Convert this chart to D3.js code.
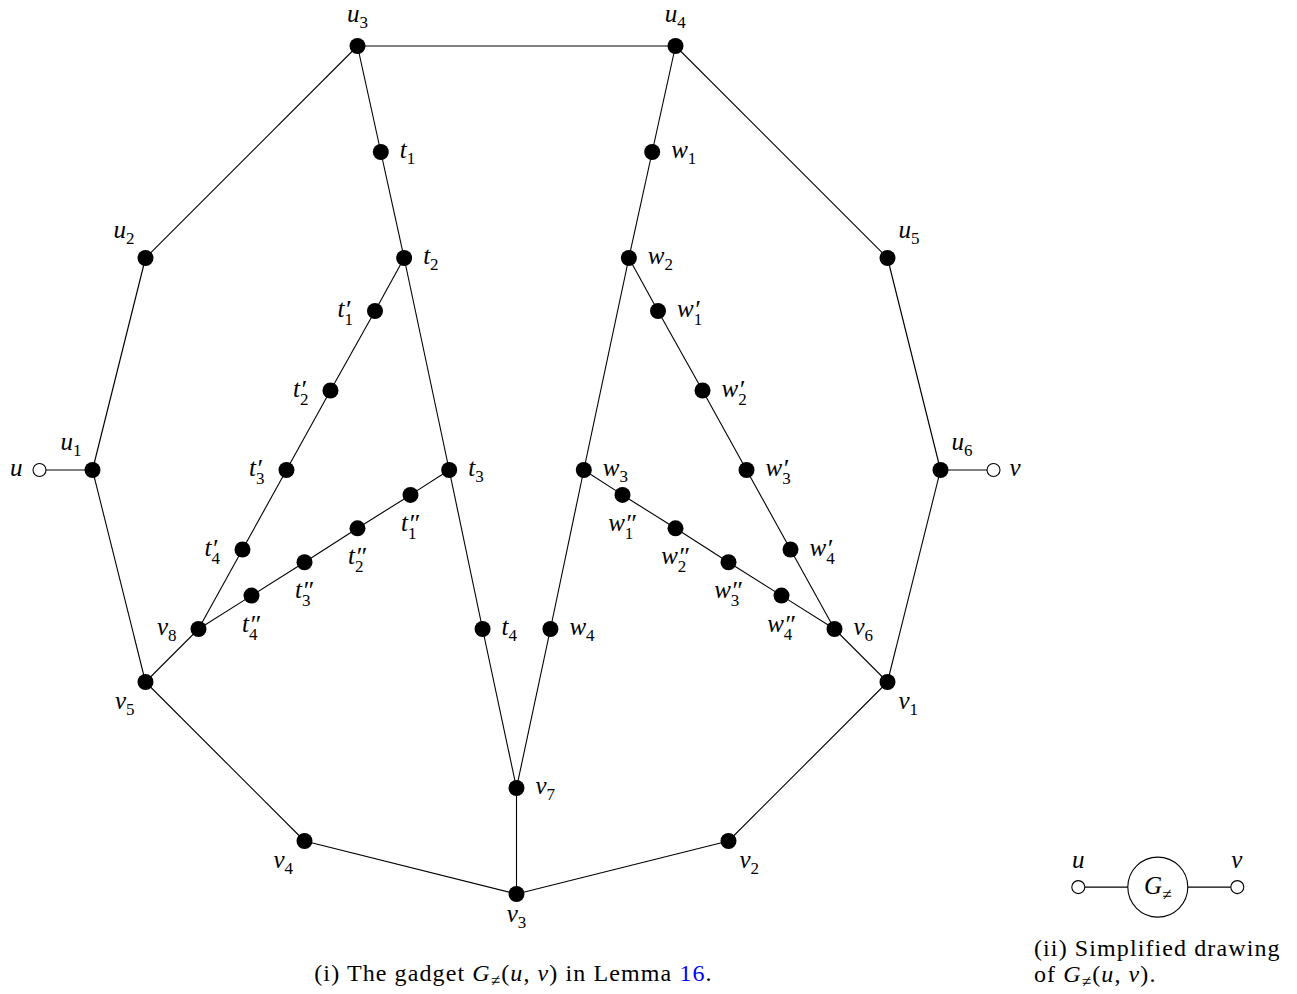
<!DOCTYPE html>
<html>
<head>
<meta charset="utf-8">
<script src="https://cdn.jsdelivr.net/npm/d3@7"></script>
<style>
  body { margin: 0; background: #fff; }
  svg { display: block; }
  .edge { stroke: #000; stroke-width: 1.1; }
  .lbl { font-family: "Liberation Serif", serif; font-style: italic; font-size: 25px; }
  .sub { font-style: normal; font-size: 17px; }
  .prime { font-size: 26px; }
  .cap { font-family: "Liberation Serif", serif; font-size: 24px; letter-spacing: 1.1px; }
</style>
</head>
<body>
<svg id="chart" width="1297" height="994"></svg>
<script>
// node names, coordinates (grid units), and label parts
var nodeIds = ["u","u1","u2","u3","t1","t2","t3","t4",
  "t1p","t2p","t3p","t4p","t1pp","t2pp","t3pp","t4pp","v8","v5","v4","v3","v7",
  "u4","w1","w2","w3","w4","w1p","w2p","w3p","w4p","w1pp","w2pp","w3pp","w4pp","v6","u5","u6","v","v1","v2"];
var nodeX = [-9,-8,-7,-3,-2.56,-2.12,-1.27,-0.64,
  -2.67,-3.51,-4.34,-5.17,-2,-3,-4,-5,-6,-7,-4,0,0,
  3,2.56,2.12,1.27,0.64,2.67,3.51,4.34,5.17,2,3,4,5,6,7,8,9,7,4];
var nodeY = [8,8,4,0,2,4,8,11,
  5,6.5,8,9.5,8.47,9.1,9.74,10.37,11,12,15,16,14,
  0,2,4,8,11,5,6.5,8,9.5,8.47,9.1,9.74,10.37,11,4,8,8,12,15];
var labelBase = ["u","u","u","u","t","t","t","t",
  "t","t","t","t","t","t","t","t","v","v","v","v","v",
  "u","w","w","w","w","w","w","w","w","w","w","w","w","v","u","u","v","v","v"];
var labelSub = ["","1","2","3","1","2","3","4",
  "1","2","3","4","1","2","3","4","8","5","4","3","7",
  "4","1","2","3","4","1","2","3","4","1","2","3","4","6","5","6","","1","2"];
var labelPrime = [0,0,0,0,0,0,0,0,
  1,1,1,1,2,2,2,2,0,0,0,0,0,
  0,0,0,0,0,1,1,1,1,2,2,2,2,0,0,0,0,0,0];
var labelSide = ["left","above left","above left","above","right","right","right","right",
  "left","left","left","left","below","below","below","below","left","below left","below left","below","right",
  "above","right","right","right","right","right","right","right","right","below","below","below","below","right","above right","above right","right","below right","below right"];
var openNodes = ["u","v"];

var edges = [
  ["u","u1"],["u1","u2"],["u2","u3"],["u3","u4"],["u4","u5"],["u5","u6"],["u6","v"],
  ["u6","v1"],["v1","v2"],["v2","v3"],["v3","v4"],["v4","v5"],["v5","u1"],
  ["u3","t1"],["t1","t2"],["t2","t3"],["t3","t4"],["t4","v7"],["v7","v3"],
  ["u4","w1"],["w1","w2"],["w2","w3"],["w3","w4"],["w4","v7"],
  ["t2","t1p"],["t1p","t2p"],["t2p","t3p"],["t3p","t4p"],["t4p","v8"],
  ["t3","t1pp"],["t1pp","t2pp"],["t2pp","t3pp"],["t3pp","t4pp"],["t4pp","v8"],["v8","v5"],
  ["w2","w1p"],["w1p","w2p"],["w2p","w3p"],["w3p","w4p"],["w4p","v6"],
  ["w3","w1pp"],["w1pp","w2pp"],["w2pp","w3pp"],["w3pp","w4pp"],["w4pp","v6"],["v6","v1"]
];

// simplified drawing: u, gadget circle, v
var smallX = [10.6, 12.1, 13.6];
var smallY = 15.87;

var svg = d3.select("#chart");

var x = d3.scaleLinear().domain([-9, 9]).range([39.5, 993.5]);
var y = d3.scaleLinear().domain([0, 16]).range([46, 894]);

var nodes = nodeIds.map(function(id, i) {
  return {id: id, x: nodeX[i], y: nodeY[i], base: labelBase[i], sub: labelSub[i],
          prime: labelPrime[i], side: labelSide[i], open: openNodes.indexOf(id) >= 0};
});
var byId = {};
nodes.forEach(function(d) { byId[d.id] = d; });

svg.append("g").selectAll("line")
  .data(edges)
  .enter().append("line")
    .attr("class", "edge")
    .attr("x1", function(d) { return x(byId[d[0]].x); })
    .attr("y1", function(d) { return y(byId[d[0]].y); })
    .attr("x2", function(d) { return x(byId[d[1]].x); })
    .attr("y2", function(d) { return y(byId[d[1]].y); });

svg.append("g").selectAll("circle")
  .data(nodes)
  .enter().append("circle")
    .attr("cx", function(d) { return x(d.x); })
    .attr("cy", function(d) { return y(d.y); })
    .attr("r", function(d) { return d.open ? 6.5 : 8; })
    .attr("fill", function(d) { return d.open ? "#fff" : "#000"; })
    .attr("stroke", "#000")
    .attr("stroke-width", function(d) { return d.open ? 1.1 : 0; });

// math label in one text element: letter, prime(s), subscript stacked under the prime
function mathLabel(g, base, sub, prime) {
  var t = g.append("text").attr("class", "lbl");
  t.append("tspan").text(base);
  var w = t.node().getComputedTextLength();
  if (prime) {
    t.append("tspan").attr("class", "prime")
      .attr("x", w).attr("y", 1)
      .text(prime == 1 ? "\u2032" : "\u2033");
  }
  if (sub) {
    t.append("tspan").attr("class", "sub")
      .attr("x", w).attr("y", prime ? 8 : 6)
      .text(sub);
  }
  var bb = t.node().getBBox();
  return bb.x + bb.width;
}

var labels = svg.append("g");
nodes.forEach(function(d) {
  var g = labels.append("g");
  var w = mathLabel(g, d.base, d.sub, d.prime);
  var cx = x(d.x), cy = y(d.y), tx, ty;
  if (d.side == "right") { tx = cx + (d.open ? 16 : 19); ty = cy + 6; }
  else if (d.side == "left") { tx = cx - (d.open ? 17 : 22) - w; ty = cy + 6; }
  else if (d.side == "above") { tx = cx - w / 2; ty = cy - 24; }
  else if (d.side == "below") { tx = cx - w / 2; ty = cy + (d.prime ? 36 : 28); }
  else if (d.side == "above left") { tx = cx - 11 - w; ty = cy - 20; }
  else if (d.side == "above right") { tx = cx + 11; ty = cy - 20; }
  else if (d.side == "below left") { tx = cx - 11 - w; ty = cy + 27; }
  else { tx = cx + 11; ty = cy + 27; }
  g.attr("transform", "translate(" + tx + "," + ty + ")");
});

// (ii) simplified drawing
var sy = y(smallY);
var small = svg.append("g");
small.append("line").attr("class", "edge")
  .attr("x1", x(smallX[0])).attr("y1", sy).attr("x2", x(smallX[2])).attr("y2", sy);
small.append("circle").attr("cx", x(smallX[1])).attr("cy", sy).attr("r", 30)
  .attr("fill", "#fff").attr("stroke", "#000").attr("stroke-width", 1.1);
[smallX[0], smallX[2]].forEach(function(v, i) {
  small.append("circle").attr("cx", x(v)).attr("cy", sy).attr("r", 6.5)
    .attr("fill", "#fff").attr("stroke", "#000").attr("stroke-width", 1.1);
  var g = small.append("g");
  var w = mathLabel(g, i == 0 ? "u" : "v", "", 0);
  g.attr("transform", "translate(" + (x(v) - w / 2) + "," + (sy - 19) + ")");
});
var gg = small.append("g");
var gw = mathLabel(gg, "G", "\u2260", 0);
gg.attr("transform", "translate(" + (x(smallX[1]) - gw / 2) + "," + (sy + 7) + ")");

// captions
var cap1 = svg.append("text").attr("class", "cap")
  .attr("x", 513.5).attr("y", 981).attr("text-anchor", "middle");
cap1.append("tspan").text("(i) The gadget ");
cap1.append("tspan").attr("font-style", "italic").text("G");
cap1.append("tspan").attr("font-size", "17px").attr("dy", 5).text("\u2260");
cap1.append("tspan").attr("dy", -5).text("(");
cap1.append("tspan").attr("font-style", "italic").text("u");
cap1.append("tspan").text(", ");
cap1.append("tspan").attr("font-style", "italic").text("v");
cap1.append("tspan").text(") in Lemma ");
cap1.append("tspan").attr("fill", "#0000ff").text("16");
cap1.append("tspan").text(".");

svg.append("text").attr("class", "cap")
  .attr("x", 1034).attr("y", 956).text("(ii) Simplified drawing");
var cap2 = svg.append("text").attr("class", "cap").attr("x", 1034).attr("y", 982);
cap2.append("tspan").text("of ");
cap2.append("tspan").attr("font-style", "italic").text("G");
cap2.append("tspan").attr("font-size", "17px").attr("dy", 5).text("\u2260");
cap2.append("tspan").attr("dy", -5).text("(");
cap2.append("tspan").attr("font-style", "italic").text("u");
cap2.append("tspan").text(", ");
cap2.append("tspan").attr("font-style", "italic").text("v");
cap2.append("tspan").text(").");
</script>
</body>
</html>
